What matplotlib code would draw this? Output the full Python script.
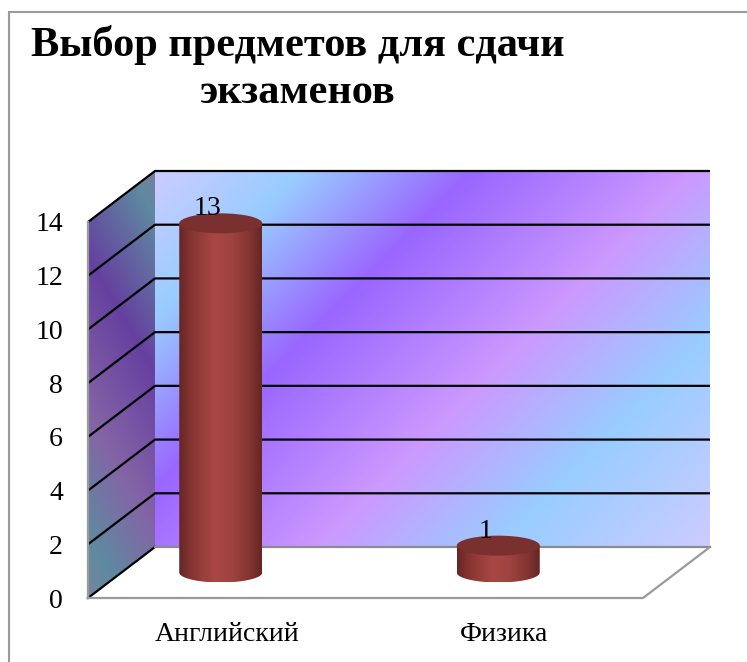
import numpy as np
import matplotlib
matplotlib.use('Agg')
import matplotlib.pyplot as plt
from matplotlib.colors import LinearSegmentedColormap
from matplotlib.patches import Polygon, Rectangle, Ellipse

# ---- data ----
categories = ['Английский', 'Физика']
values = [13, 1]
y_ticks = [0, 2, 4, 6, 8, 10, 12, 14]
title_line1 = 'Выбор предметов для сдачи'
title_line2 = 'экзаменов'

plt.rcParams['font.family'] = ['Liberation Serif', 'DejaVu Serif']

W, H = 747, 662
fig = plt.figure(figsize=(W / 100, H / 100), dpi=100)
fig.patch.set_facecolor('white')
ax = fig.add_axes([0, 0, 1, 1])
ax.set_facecolor('none')

# geometry of the front plane (pixels)
PX_LEFT, PX_RIGHT = 88, 643
PY_ZERO, PY_TOP = 598, 222
YMAX = y_ticks[-1]
SX = (PX_RIGHT - PX_LEFT) / len(categories)
SY = (PY_ZERO - PY_TOP) / YMAX
XL, XR = -0.5, len(categories) - 0.5
DX, DY = 67 / SX, 51 / SY


def to_px(x, y):
    return PX_LEFT + (x - XL) * SX, PY_ZERO - y * SY


back_cmap = LinearSegmentedColormap.from_list('back', [
    (0.0, '#CCCCFF'), (0.155, '#99CCFF'), (0.34, '#9966FF'),
    (0.58, '#CC99FF'), (0.77, '#99CCFF'), (1.0, '#CCCCFF')])
side_cmap = LinearSegmentedColormap.from_list('side', [
    (0.0, '#787E9C'), (0.08, '#5E8AA0'), (0.37, '#6640A0'),
    (0.66, '#8464A6'), (0.89, '#5E8AA0'), (1.0, '#7884A0')])
cyl_cmap = LinearSegmentedColormap.from_list('cyl', [
    (0.0, '#662624'), (0.15, '#873532'), (0.42, '#A84743'),
    (0.62, '#A04441'), (0.85, '#843431'), (1.0, '#652624')])

# back wall gradient
xs = np.linspace(XL + DX, XR + DX, 400)
ys = np.linspace(DY, YMAX + DY, 300)
X, Y = np.meshgrid(xs, ys)
PX, PY = to_px(X, Y)
T = PX + PY
T = (T - T.min()) / (T.max() - T.min())
ax.imshow(T, extent=[xs[0], xs[-1], ys[0], ys[-1]], origin='lower', cmap=back_cmap,
          vmin=0, vmax=1, aspect='auto', interpolation='bilinear', zorder=1)

# side wall gradient
xs = np.linspace(XL, XL + DX, 80)
ys = np.linspace(0, YMAX + DY, 400)
X, Y = np.meshgrid(xs, ys)
PX, PY = to_px(X, Y)
S = PY - 1.7 * (PX - PX_LEFT)
p1 = to_px(XL + DX, YMAX + DY)
p2 = to_px(XL, 0)
smin = p1[1] - 1.7 * (p1[0] - PX_LEFT)
smax = p2[1] - 1.7 * (p2[0] - PX_LEFT)
S = np.clip((S - smin) / (smax - smin), 0, 1)
side_poly = Polygon([(XL, 0), (XL + DX, DY), (XL + DX, YMAX + DY), (XL, YMAX)],
                    closed=True, transform=ax.transData)
im = ax.imshow(S, extent=[xs[0], xs[-1], ys[0], ys[-1]], origin='lower', cmap=side_cmap,
               vmin=0, vmax=1, aspect='auto', interpolation='bilinear', zorder=1)
im.set_clip_path(side_poly)

# floor
ax.add_patch(Polygon([(XL, 0), (XR, 0), (XR + DX, DY), (XL + DX, DY)], closed=True,
                     facecolor='white', edgecolor='none', zorder=1))

# gridlines
for v in y_ticks[1:]:
    ax.plot([XL, XL + DX, XR + DX], [v, v + DY, v + DY], color='black', lw=1.6,
            zorder=2, solid_capstyle='butt')
ax.plot([XL, XL + DX], [0, DY], color='black', lw=1.6, zorder=2)
ax.plot([XL + DX, XR + DX], [DY, DY], color='#8C8C8C', lw=1.6, zorder=2)
ax.plot([XL, XR, XR + DX], [0, 0, DY], color='#9A9A9A', lw=1.6, zorder=2)
ax.plot([XL, XL], [0, YMAX], color='#9A9A9A', lw=1.6, zorder=2)

# cylinders
CW = 83 / SX
EH = 20 / SY
XOFF = -6 / SX
theta = np.linspace(np.pi, 2 * np.pi, 80)
grad = np.linspace(0, 1, 256)[None, :]
for i, v in enumerate(values):
    cx = i + XOFF
    base = DY / 2
    top = v + DY / 2
    bx = cx + CW / 2 * np.cos(theta)
    by = base + EH / 2 * np.sin(theta)
    pts = np.vstack([np.column_stack([bx, by]), [[cx + CW / 2, top], [cx - CW / 2, top]]])
    clip = Polygon(pts, closed=True, transform=ax.transData)
    im = ax.imshow(grad, extent=[cx - CW / 2, cx + CW / 2, base - EH / 2, top],
                   origin='lower', cmap=cyl_cmap, aspect='auto', interpolation='bilinear',
                   zorder=3)
    im.set_clip_path(clip)
    ax.add_patch(Ellipse((cx, top), CW, EH, facecolor='#7A302E', edgecolor='none', zorder=4))
    ax.text(cx - 13 / SX, top + 0.3, str(v), ha='center', va='baseline', fontsize=20,
            color='black', zorder=5)

# axes / ticks
ax.set_xlim(XL - PX_LEFT / SX, XL + (W - PX_LEFT) / SX)
ax.set_ylim(-(H - PY_ZERO) / SY, PY_ZERO / SY)
for s in ax.spines.values():
    s.set_visible(False)
ax.spines['left'].set_position(('data', XL))
ax.spines['bottom'].set_position(('data', 0))
ax.set_yticks(y_ticks)
ax.set_yticklabels([str(t) for t in y_ticks])
ax.set_xticks(range(len(categories)))
ax.set_xticklabels(categories)
ax.tick_params(axis='y', length=0, pad=18, labelsize=20, colors='black')
ax.tick_params(axis='x', length=0, pad=17, labelsize=20, colors='black')

# title
fig.text(298 / W, 1 - 56 / H, title_line1, ha='center', va='baseline', fontsize=30.5,
         fontweight='bold')
fig.text(298 / W, 1 - 103 / H, title_line2, ha='center', va='baseline', fontsize=30.5,
         fontweight='bold')

# chart-area border
fig.patches.append(Rectangle((9 / W, -0.1), 2.0, 1 - 12 / H + 0.1, transform=fig.transFigure,
                             fill=False, edgecolor='#9A9A9A', lw=1.5))

fig.savefig('out.png', dpi=100)
